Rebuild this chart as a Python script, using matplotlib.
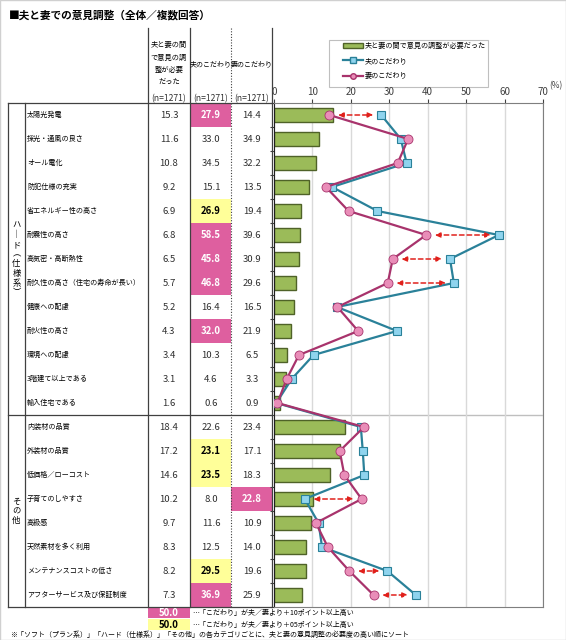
# 夫と妻での意見調整（全体／複数回答） - bar + line chart with side table

import matplotlib.pyplot as plt
from matplotlib.patches import Rectangle, Patch
from matplotlib.lines import Line2D

plt.rcParams['font.family'] = ['Noto Sans CJK JP', 'DejaVu Sans']

title = '■夫と妻での意見調整（全体／複数回答）'

items = ['太陽光発電', '採光・通風の良さ', 'オール電化', '防犯仕様の充実',
         '省エネルギー性の高さ', '耐震性の高さ', '高気密・高断熱性',
         '耐久性の高さ（住宅の寿命が長い）', '健康への配慮', '耐火性の高さ',
         '環境への配慮', '3階建て以上である', '輸入住宅である',
         '内装材の品質', '外装材の品質', '低価格／ローコスト', '子育てのしやすさ',
         '高級感', '天然素材を多く利用', 'メンテナンスコストの低さ',
         'アフターサービス及び保証制度']
need = [15.3, 11.6, 10.8, 9.2, 6.9, 6.8, 6.5, 5.7, 5.2, 4.3, 3.4, 3.1, 1.6,
        18.4, 17.2, 14.6, 10.2, 9.7, 8.3, 8.2, 7.3]
husband = [27.9, 33.0, 34.5, 15.1, 26.9, 58.5, 45.8, 46.8, 16.4, 32.0, 10.3, 4.6, 0.6,
           22.6, 23.1, 23.5, 8.0, 11.6, 12.5, 29.5, 36.9]
wife = [14.4, 34.9, 32.2, 13.5, 19.4, 39.6, 30.9, 29.6, 16.5, 21.9, 6.5, 3.3, 0.9,
        23.4, 17.1, 18.3, 22.8, 10.9, 14.0, 19.6, 25.9]

# highlighted cells: (row, column) where column 1 = husband, 2 = wife
pink_cells = [(0, 1), (5, 1), (6, 1), (7, 1), (9, 1), (16, 2), (20, 1)]
yellow_cells = [(4, 1), (14, 1), (15, 1), (19, 1)]
arrow_rows = [0, 5, 6, 7, 16, 19, 20]

groups = [('ハ\n｜\nド\n︵\n仕\n様\n系\n︶', 0, 13), ('そ\nの\n他', 13, 21)]

legend_labels = ['夫と妻の間で意見の調整が必要だった', '夫のこだわり', '妻のこだわり']
col_headers = ['夫と妻の間\nで意見の調\n整が必要\nだった', '夫のこだわり', '妻のこだわり']
note_pink = '…「こだわり」が夫／妻より＋10ポイント以上高い'
note_yellow = '…「こだわり」が夫／妻より＋05ポイント以上高い'
note_sort = '※「ソフト（プラン系）」「ハード（仕様系）」「その他」の各カテゴリごとに、夫と妻の意見調整の必要度の高い順にソート'

PINK = '#DE5F9F'
YELLOW = '#FFFF99'
BAR = '#9BBB59'
BAR_EDGE = '#4F6228'
H_LINE = '#2A8199'
H_FACE = '#8FD4EE'
W_LINE = '#A8336C'
W_FACE = '#E98DB8'

W, H = 566, 640
fig = plt.figure(figsize=(W / 100, H / 100), dpi=100)

# layout in pixels
top, row_h = 103, 24
n = len(items)
bottom = top + row_h * n
cx0, cx1 = 274, 543
col_x = [8, 25, 148, 190, 231, 272]
col_c = [169, 211, 252]

# ---- chart ----
ax = fig.add_axes([cx0 / W, 1 - bottom / H, (cx1 - cx0) / W, (bottom - top) / H])
ypos = list(range(n))
ax.barh(ypos, need, height=0.6, color=BAR, edgecolor=BAR_EDGE, linewidth=1.0, zorder=2)
ax.plot(husband, ypos, color=H_LINE, lw=1.6, marker='s', ms=6, mfc=H_FACE,
        mec=H_LINE, mew=0.8, zorder=4)
ax.plot(wife, ypos, color=W_LINE, lw=1.6, marker='o', ms=6.5, mfc=W_FACE,
        mec=W_LINE, mew=0.6, zorder=5)
for r in arrow_rows:
    lo, hi = sorted([husband[r], wife[r]])
    ax.annotate('', xy=(hi - 2.0, r), xytext=(lo + 2.2, r),
                arrowprops=dict(arrowstyle='<|-|>,head_length=0.32,head_width=0.14',
                                color='#E0201B', lw=1.1, ls=(0, (3, 2)),
                                shrinkA=0, shrinkB=0), zorder=6)
ax.axhline(12.5, color='#BFBFBF', lw=1, zorder=1)
ax.set_xlim(0, 70)
ax.set_ylim(n - 0.5, -0.5)
ax.set_xticks(range(0, 71, 10))
ax.xaxis.tick_top()
ax.tick_params(axis='x', labelsize=7, colors='#404040', length=3, pad=1)
ax.set_yticks([i - 0.5 for i in range(n + 1)])
ax.set_yticklabels([])
ax.tick_params(axis='y', length=3, color='#404040')
ax.grid(axis='x', color='#D9D9D9', lw=1, zorder=0)
for s in ['top', 'right', 'bottom']:
    ax.spines[s].set_color('#7F7F7F')
ax.spines['left'].set_color('#202020')
fig.text(549 / W, 1 - 88 / H, '(%)', fontsize=6, color='#404040')

handles = [Patch(facecolor=BAR, edgecolor=BAR_EDGE, lw=1.0),
           Line2D([], [], color=H_LINE, lw=1.6, marker='s', ms=4, mfc=H_FACE, mec=H_LINE),
           Line2D([], [], color=W_LINE, lw=1.6, marker='o', ms=4, mfc=W_FACE, mec=W_LINE)]
leg = fig.legend(handles, legend_labels, loc='upper left',
                 bbox_to_anchor=(343 / W, 1 - 42 / H), fontsize=5.1, frameon=False,
                 handlelength=2.8, handleheight=0.8, borderpad=0, labelspacing=1.0,
                 handletextpad=0.2, borderaxespad=0)

# ---- table (pixel overlay) ----
ov = fig.add_axes([0, 0, 1, 1], zorder=-1)
ov.set_xlim(0, W)
ov.set_ylim(H, 0)
ov.axis('off')

# legend frame
ov.add_patch(Rectangle((329, 40), 159, 47, facecolor='white', edgecolor='#BFBFBF', lw=0.8))

fig.text(9 / W, 1 - 15 / H, title, fontsize=7.7, fontweight='bold', va='center')

for (r, c) in pink_cells + yellow_cells:
    fc = PINK if (r, c) in pink_cells else YELLOW
    x0 = col_x[2 + c]
    ov.add_patch(Rectangle((x0, top + r * row_h), col_x[3 + c] - x0, row_h,
                           facecolor=fc, edgecolor='none'))

lc = '#404040'
ov.plot([col_x[0], col_x[-1]], [top, top], color=lc, lw=0.9)
ov.plot([col_x[0], col_x[-1]], [bottom, bottom], color=lc, lw=0.9)
ov.plot([col_x[0], col_x[0]], [top, bottom], color=lc, lw=0.9)
ov.plot([col_x[1], col_x[1]], [top, bottom], color=lc, lw=0.9)
for x in [col_x[2], col_x[3], col_x[5]]:
    ov.plot([x, x], [28, bottom], color=lc, lw=0.9)
ov.plot([col_x[4], col_x[4]], [28, bottom], color=lc, lw=0.8, ls=(0, (1, 1.5)))
y_split = top + row_h * groups[1][1]
ov.plot([col_x[0], col_x[-1]], [y_split, y_split], color=lc, lw=0.9)

ov.text(col_c[0], 64, col_headers[0], fontsize=5.2, ha='center', va='center', linespacing=1.75)
ov.text(col_c[1], 64, col_headers[1], fontsize=5.0, ha='center', va='center')
ov.text(col_c[2], 64, col_headers[2], fontsize=5.0, ha='center', va='center')
for c in col_c:
    ov.text(c, 99, '(n=1271)', fontsize=6.2, ha='center', va='center', color='#303030')

for label, a, b in groups:
    ov.text((col_x[0] + col_x[1]) / 2, top + row_h * (a + b) / 2, label, fontsize=6.0,
            ha='center', va='center', linespacing=1.1)

for i, lab in enumerate(items):
    y = top + row_h * (i + 0.5)
    ov.text(col_x[1] + 2, y, lab, fontsize=5.1, ha='left', va='center')
    for c, vals in enumerate([need, husband, wife]):
        if (i, c) in pink_cells:
            ov.text(col_c[c], y, f'{vals[i]:.1f}', fontsize=6.9, ha='center',
                    va='center', color='white', fontweight='bold')
        elif (i, c) in yellow_cells:
            ov.text(col_c[c], y, f'{vals[i]:.1f}', fontsize=6.9, ha='center',
                    va='center', color='black', fontweight='bold')
        else:
            ov.text(col_c[c], y, f'{vals[i]:.1f}', fontsize=6.9, ha='center',
                    va='center', color='#303030')

# notes under the table
ov.add_patch(Rectangle((148, 607), 42, 11, facecolor=PINK, edgecolor='none'))
ov.add_patch(Rectangle((148, 619), 42, 11, facecolor=YELLOW, edgecolor='none'))
ov.text(169, 612.5, '50.0', fontsize=6.9, ha='center', va='center', color='white', fontweight='bold')
ov.text(169, 624.5, '50.0', fontsize=6.9, ha='center', va='center', color='black', fontweight='bold')
ov.text(192, 612.5, note_pink, fontsize=5.0, ha='left', va='center')
ov.text(192, 624.5, note_yellow, fontsize=5.0, ha='left', va='center')
ov.text(10, 634.5, note_sort, fontsize=5.0, ha='left', va='center')

fig.patches.append(Rectangle((0, 0), 1, 1, transform=fig.transFigure, fill=False,
                             edgecolor='#D0D0D0', lw=1))

fig.savefig('out.png', dpi=100)
